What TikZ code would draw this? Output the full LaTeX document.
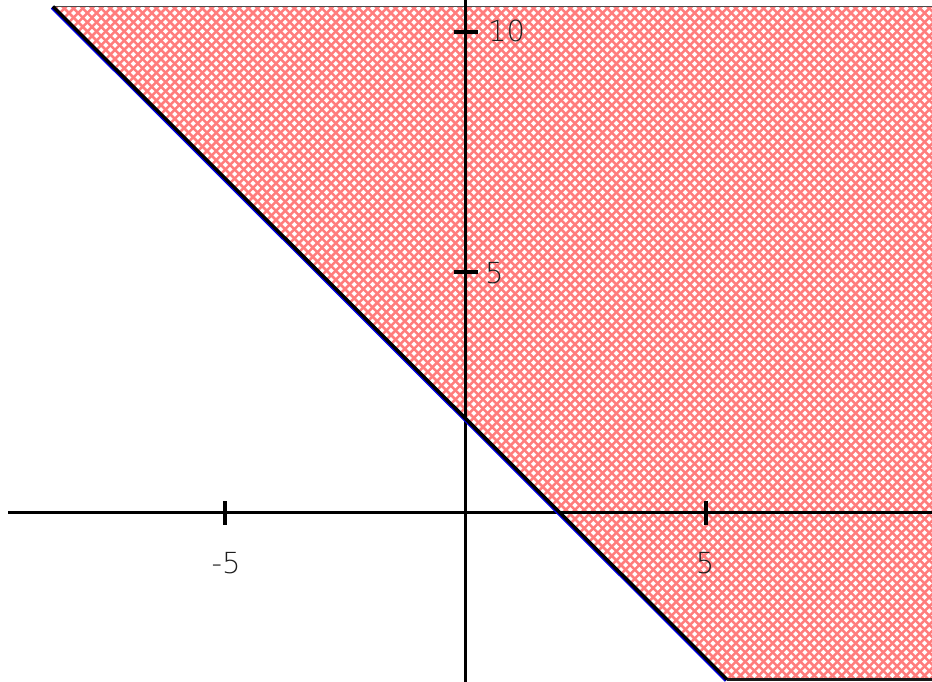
\documentclass[tikz,border=0pt]{standalone}
\usepackage{fontspec}
\setmainfont{Liberation Sans}
\newfontfamily\lightfont{DejaVu Sans ExtraLight}
\definecolor{hatchred}{RGB}{255,125,125}
\definecolor{bnd}{RGB}{0,0,230}
\definecolor{lab}{RGB}{30,30,30}
\begin{document}
\begin{tikzpicture}[x=1pt,y=-1pt,
  axis/.style={line width=3.6pt,black},
  tickmark/.style={line width=3.6pt,black},
  hatch/.style={line width=2.5pt,hatchred},
  ticklabel/.style={font=\lightfont\fontsize{29}{29}\selectfont,text=lab,inner sep=0pt}]
\useasboundingbox (0,0) rectangle (932,682);
\fill[white] (0,0) rectangle (932,682);
% region corners
\coordinate (TL) at (53,6.5);
\coordinate (TR) at (932,6.5);
\coordinate (BR) at (932,679.5);
\coordinate (BL) at (727,679.5);
\begin{scope}
\clip (TL) -- (TR) -- (BR) -- (BL) -- cycle;
\foreach \k in {-90,...,190} {
  \draw[hatch] (\k*9.2,-10) -- ++(700,700);
  \draw[hatch] (\k*9.2,-10) -- ++(-700,700);
}
\end{scope}
\draw[line width=1.4pt,black!70] (TL) -- (TR);
\draw[line width=2.6pt,black!90] (BL) -- (BR);
% axes
\coordinate (xa) at (8,512.5);
\coordinate (xb) at (932,512.5);
\coordinate (ya) at (465.5,0);
\coordinate (yb) at (465.5,682);
\draw[axis] (xa) -- (xb);
\draw[axis] (ya) -- (yb);
% ticks
\coordinate (tm5) at (225,512.5);
\coordinate (tp5) at (706,512.5);
\coordinate (ty5) at (465.5,272);
\coordinate (ty10) at (465.5,32);
\draw[tickmark] ([yshift=-12]tm5) -- ([yshift=12]tm5);
\draw[tickmark] ([yshift=-12]tp5) -- ([yshift=12]tp5);
\draw[tickmark] ([xshift=-12]ty5) -- ([xshift=12]ty5);
\draw[tickmark] ([xshift=-12]ty10) -- ([xshift=12]ty10);
\node[ticklabel] (lm5) at (226,563) {-5};
\node[ticklabel] (lp5) at (705,563) {5};
\node[ticklabel,anchor=west] (ly5) at (485,273) {5};
\node[ticklabel,anchor=west] (ly10) at (488,31) {10};
% boundary line
\draw[line width=3.6pt,bnd] ([shift={(-0.9,0.9)}]TL) -- ([shift={(-0.9,0.9)}]BL);
\draw[line width=3.4pt,black] (TL) -- (BL);
\end{tikzpicture}
\end{document}
